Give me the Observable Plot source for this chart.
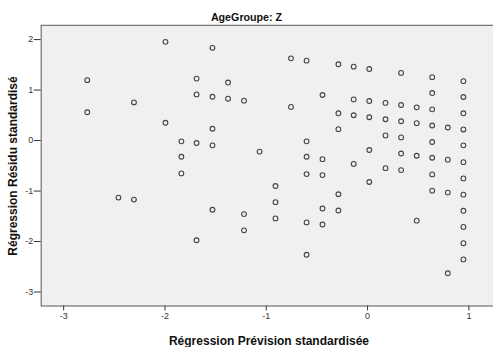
<!DOCTYPE html>
<html>
<head>
<meta charset="utf-8">
<script src="https://cdn.jsdelivr.net/npm/d3@7"></script>
<script src="https://cdn.jsdelivr.net/npm/@observablehq/plot@0.6"></script>
<style>
  html, body { margin: 0; padding: 0; overflow: hidden; background: #fff; }
  #wrap { position: relative; width: 493px; height: 347px; overflow: hidden; }
  #chart { position: absolute; left: 0; top: 0; }
  .lbl { position: absolute; font-family: "Liberation Sans", Arial, sans-serif; font-weight: bold; color: #111; white-space: nowrap; line-height: 1; }
  #title { left: 0; width: 493px; text-align: center; top: 12px; font-size: 10.7px; }
  #xlab { left: 41px; width: 456px; text-align: center; top: 335px; font-size: 12px; }
  #ylab { left: 13px; top: 166px; font-size: 12px; transform: translate(-50%, -50%) rotate(-90deg); }
</style>
</head>
<body>
<div id="wrap">
  <div id="chart"></div>
  <div class="lbl" id="title">AgeGroupe: Z</div>
  <div class="lbl" id="xlab">Régression Prévision standardisée</div>
  <div class="lbl" id="ylab">Régression Résidu standardisé</div>
</div>
<script>
// Standardized predicted values (one per column of points)
const predicted = [
  -2.767, -2.459, -2.306, -1.995, -1.838, -1.688, -1.531, -1.377, -1.220,
  -1.066, -0.909, -0.756, -0.602, -0.445, -0.288, -0.137, 0.017, 0.177,
  0.331, 0.485, 0.638, 0.792, 0.946
];

// Standardized residuals observed at each predicted value
const residuals = [
  [1.196, 0.560],
  [-1.130],
  [0.756, -1.169],
  [1.955, 0.352],
  [-0.016, -0.320, -0.650],
  [1.228, 0.914, -0.049, -1.974],
  [1.837, 0.868, 0.234, -0.094, -1.371],
  [1.149, 0.829],
  [0.790, -1.456, -1.778],
  [-0.218],
  [-0.900, -1.220, -1.542],
  [1.629, 0.666],
  [1.582, -0.016, -0.320, -0.664, -1.621, -2.261],
  [0.902, -0.369, -0.684, -1.346, -1.662],
  [1.511, 0.540, 0.226, -1.063, -1.385],
  [1.464, 0.815, 0.501, -0.462],
  [1.418, 0.784, 0.462, -0.187, -0.821],
  [0.745, 0.422, 0.102, -0.546],
  [1.340, 0.705, 0.383, 0.063, -0.257, -0.585],
  [0.658, 0.344, -0.301, -1.587],
  [1.255, 0.941, 0.619, 0.299, -0.029, -0.340, -0.670, -0.992],
  [0.259, -0.379, -1.031, -2.629],
  [1.177, 0.862, 0.540, 0.220, -0.094, -0.428, -0.749, -1.071, -1.391, -1.711, -2.033, -2.354]
];

const xTicks = [-3, -2, -1, 0, 1];
const yTicks = [-3, -2, -1, 0, 1, 2];

const points = predicted.flatMap((p, i) => residuals[i].map(r => ({pred: p, resid: r})));

const chart = Plot.plot({
  width: 497,
  height: 347,
  marginLeft: 41,
  marginRight: 0,
  marginTop: 25,
  marginBottom: 39,
  style: { fontFamily: "Liberation Sans, Arial, sans-serif", fontSize: "9px", color: "#333", background: "transparent" },
  x: { domain: [-3.222, 1.243], label: null },
  y: { domain: [-3.277, 2.283], label: null },
  marks: [
    Plot.frame({ fill: "#f0f0f0", stroke: "#555" }),
    Plot.axisX({ ticks: xTicks, tickSize: 5, tickPadding: 2, label: null, tickFormat: d => String(d).replace("−", "-") }),
    Plot.axisY({ ticks: yTicks, tickSize: 7, tickPadding: 1, label: null, tickFormat: d => String(d).replace("−", "-") }),
    Plot.dot(points, { x: "pred", y: "resid", r: 2.4, stroke: "#444", strokeWidth: 1.1, fill: "none" })
  ]
});

document.getElementById("chart").appendChild(chart);
</script>
</body>
</html>
